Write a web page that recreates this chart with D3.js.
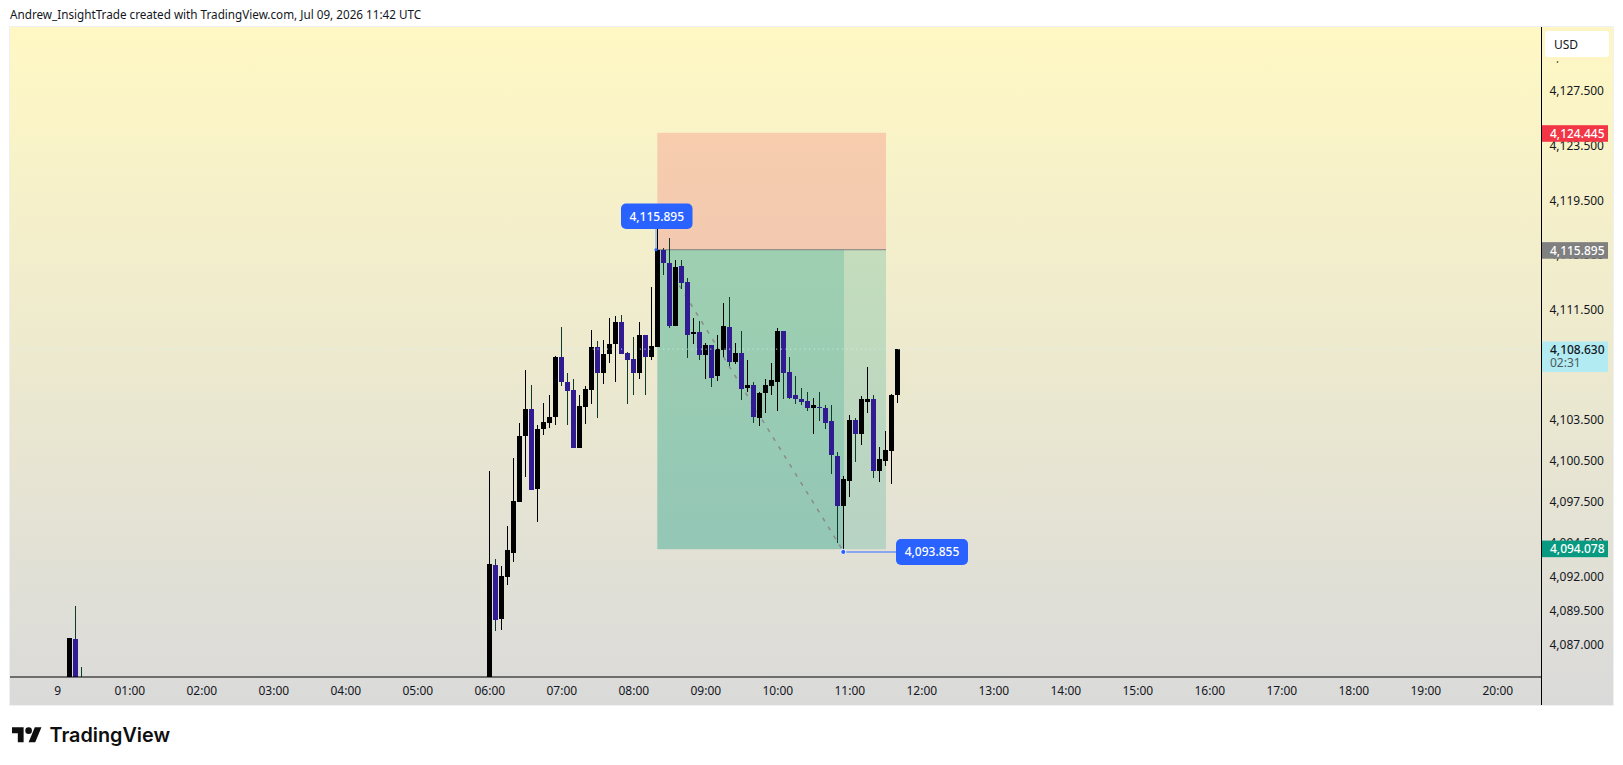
<!DOCTYPE html>
<html><head><meta charset="utf-8">
<script src="https://cdn.jsdelivr.net/npm/d3@7/dist/d3.min.js"></script>
<style>
html,body{margin:0;padding:0;background:#fff;overflow:hidden}
svg{display:block}
text{font-family:"Noto Sans",sans-serif}
</style></head><body>
<svg id="c" width="1623" height="765"></svg>
<script>
const titleText = "Andrew_InsightTrade created with TradingView.com, Jul 09, 2026 11:42 UTC";
const barSlots = [2,3,4,
 72,73,74,75,76,77,78,79,80,81,82,83,84,85,86,87,88,89,90,91,92,93,94,95,96,97,98,99,
 100,101,102,103,104,105,106,107,108,109,110,111,112,113,114,115,116,117,118,119,
 120,121,122,123,124,125,126,127,128,129,130,131,132,133,134,135,136,137,138,139,140];
const opens = [4080,4087.45,4082,
 4080,4092.87,4088.92,4091.99,4093.75,4097.48,4102.31,4104.28,4098.43,4102.82,4103.26,4103.70,4108.02,4106.26,4105.67,4101.43,4104.43,4105.67,4108.82,4106.85,4108.24,4109.04,4110.58,4108.38,4107.94,4106.85,4109.63,4108.09,
 4108.82,4115.84,4114.89,4110.35,4114.74,4113.57,4109.77,4109.91,4108.23,4108.96,4106.69,4108.60,4110.28,4107.72,4108.38,4105.82,4106.04,4103.63,4105.39,4105.97,
 4106.19,4109.99,4106.99,4105.24,4104.95,4104.87,4104.29,4104.43,4104.36,4103.34,4100.85,4097.19,4099.02,4103.48,4102.46,4104.80,4104.95,4099.75,4100.48,4101.21,4105.24];
const highs = [4087.53,4089.87,4085.41,
 4099.75,4093.28,4092.80,4095.72,4100.70,4103.26,4107.14,4106.04,4103.11,4104.72,4105.24,4108.16,4110.28,4106.92,4106.48,4105.24,4105.97,4110.06,4109.26,4109.33,4110.94,4111.02,4111.16,4108.45,4109.48,4110.58,4109.63,4113.14,
 4117.96,4116.03,4116.79,4115.18,4115.18,4113.86,4110.94,4110.72,4109.11,4108.96,4109.69,4112.03,4112.47,4109.11,4109.99,4107.87,4106.26,4105.53,4106.41,4107.58,
 4110.21,4109.99,4108.09,4106.63,4105.82,4105.53,4105.09,4105.46,4104.51,4104.58,4101.14,4099.39,4103.85,4103.63,4105.17,4107.29,4105.31,4101.50,4102.67,4105.38,4108.63];
const lows = [4080,4082,4080,
 4078,4087.99,4088.11,4091.41,4093.09,4097.48,4099.31,4098.36,4096.02,4102.38,4102.89,4103.11,4105.97,4103.11,4101.43,4101.43,4103.19,4104.65,4103.63,4106.11,4107.65,4106.26,4108.31,4104.65,4105.24,4106.48,4105.31,4107.80,
 4108.82,4114.08,4110.21,4110.35,4113.06,4108.01,4109.03,4107.86,4106.47,4105.89,4106.33,4108.08,4107.43,4107.57,4104.94,4105.46,4103.26,4103.04,4103.99,4105.31,
 4104.07,4104.95,4105.02,4104.65,4104.51,4104.07,4102.39,4103.41,4102.82,4099.53,4094.48,4093.855,4097.85,4100.41,4101.65,4103.99,4099.24,4098.94,4100.11,4098.80,4104.72];
const closes = [4087.48,4084,4081,
 4092.94,4088.85,4092.06,4093.97,4097.55,4102.31,4104.28,4098.36,4102.82,4103.33,4103.70,4108.02,4106.26,4105.60,4101.43,4104.50,4105.75,4108.82,4106.85,4108.31,4109.04,4110.58,4108.31,4107.80,4106.85,4109.63,4108.09,4108.89,
 4115.84,4114.89,4110.35,4114.67,4113.50,4109.69,4109.91,4108.23,4108.96,4106.55,4108.67,4110.35,4107.72,4108.38,4105.74,4106.04,4103.70,4105.39,4106.04,4106.34,
 4109.99,4106.92,4105.09,4104.95,4104.73,4104.29,4104.51,4104.36,4103.26,4100.92,4097.19,4099.17,4103.48,4102.46,4104.95,4105.02,4099.75,4100.63,4101.28,4105.31,4108.63];
const priceTicks = [4130,4127.5,4123.5,4119.5,4115.5,4111.5,4107.5,4103.5,4100.5,4097.5,4094.5,4092,4089.5,4087];
const hourTicks = [0,1,2,3,4,5,6,7,8,9,10,11,12,13,14,15,16,17,18,19,20];
const hourLabels = ["9","01:00","02:00","03:00","04:00","05:00","06:00","07:00","08:00","09:00","10:00","11:00","12:00","13:00","14:00","15:00","16:00","17:00","18:00","19:00","20:00"];
const stopPrice = 4124.445, entryPrice = 4115.895, targetPrice = 4094.078;
const highPrice = 4115.895, lowPrice = 4093.855, lastPrice = 4108.63;
const countdown = "02:31", currency = "USD";
const posStartSlot = 100, posEndSlot = 138, lowSlot = 131, highSlot = 100;

const L=10,R=1613,T=27,B=705,AX=1541.5,AY=677;
const svg=d3.select("#c");
const y=d3.scaleLinear().domain([4127.5,4087]).range([91,645]);
const x=d3.scaleLinear().domain([0,20]).range([57.3,1497.3]);
const xs=s=>x(s*5/60);
const fmt=d3.format(",.3f");
const defs=svg.append("defs");
const g=defs.append("linearGradient").attr("id","bg").attr("x1",0).attr("x2",0).attr("y1",0).attr("y2",1);
g.append("stop").attr("offset",0).attr("stop-color","#fff8c4");
g.append("stop").attr("offset",1).attr("stop-color","#dadada");
defs.append("clipPath").attr("id","plot").append("rect").attr("x",L).attr("y",T).attr("width",AX-L).attr("height",AY-T);

svg.append("text").attr("x",10).attr("y",19).attr("font-size",11.7).attr("fill","#131722").text(titleText);
svg.append("rect").attr("x",L-.5).attr("y",T-.5).attr("width",R-L+1).attr("height",B-T+1).attr("fill","url(#bg)").attr("stroke","#eef0f3");

// position tool
const xa=xs(posStartSlot),xb=Math.ceil(xs(posEndSlot)),xl=Math.ceil(xs(lowSlot));
const plot=svg.append("g").attr("clip-path","url(#plot)");
plot.append("rect").attr("x",xa).attr("y",y(stopPrice)).attr("width",xb-xa).attr("height",y(entryPrice)-y(stopPrice)).attr("fill","rgba(242,54,69,.2)");
plot.append("rect").attr("x",xa).attr("y",y(entryPrice)).attr("width",xb-xa).attr("height",y(targetPrice)+1-y(entryPrice)).attr("fill","rgba(8,153,129,.2)");
plot.append("rect").attr("x",xa).attr("y",y(entryPrice)).attr("width",xl-xa).attr("height",y(targetPrice)+1-y(entryPrice)).attr("fill","rgba(8,153,129,.2)");
plot.append("line").attr("x1",xa).attr("x2",xb).attr("y1",y(entryPrice)).attr("y2",y(entryPrice)).attr("stroke","#808080").attr("stroke-width",1);
plot.append("line").attr("x1",xs(highSlot)).attr("y1",y(highPrice)).attr("x2",xs(lowSlot)).attr("y2",y(lowPrice)).attr("stroke","#8a8a8a").attr("stroke-width",1.5).attr("stroke-dasharray","4 6.5");

// leaders and callouts
function callout(px,py,w,h,label){
  svg.append("rect").attr("x",px).attr("y",py).attr("width",w).attr("height",h).attr("rx",5).attr("fill","#2962ff");
  svg.append("text").attr("x",px+w/2).attr("y",py+h/2+4.3).attr("text-anchor","middle").attr("font-size",12).attr("font-weight",500).attr("fill","#fff").text(label);
}
svg.append("line").attr("x1",656).attr("x2",656).attr("y1",225).attr("y2",y(highPrice)).attr("stroke","#6f93f5").attr("stroke-width",1);
svg.append("line").attr("x1",xs(lowSlot)).attr("x2",897).attr("y1",y(lowPrice)+.7).attr("y2",y(lowPrice)+.7).attr("stroke","#8aa6ee").attr("stroke-width",2);
callout(621,203.5,71.5,25.5,fmt(highPrice));
callout(896,539,72,26,fmt(lowPrice));

// candles
const candles=barSlots.map((s,i)=>({s,o:opens[i],h:highs[i],l:lows[i],c:closes[i]}));
const UP="#000000",DOWN="#311b92",DW="#0c3b2e";
const cg=plot.append("g");
cg.selectAll("rect.w").data(candles).join("rect").attr("class","w")
  .attr("x",d=>Math.floor(xs(d.s))).attr("width",1)
  .attr("y",d=>Math.round(y(d.h))).attr("height",d=>Math.max(1,Math.round(y(d.l))-Math.round(y(d.h))))
  .attr("fill",d=>d.c>=d.o?UP:DW);
cg.selectAll("rect.b").data(candles).join("rect").attr("class","b")
  .attr("x",d=>Math.floor(xs(d.s))-2).attr("width",5)
  .attr("y",d=>Math.round(y(Math.max(d.o,d.c))))
  .attr("height",d=>Math.max(1,Math.round(y(Math.min(d.o,d.c)))-Math.round(y(Math.max(d.o,d.c)))))
  .attr("fill",d=>d.c>=d.o?UP:DOWN);

// dots
svg.append("circle").attr("cx",656).attr("cy",y(highPrice)).attr("r",1.6).attr("fill","#2962ff");
svg.append("circle").attr("cx",xs(lowSlot)).attr("cy",y(lowPrice)+.7).attr("r",2.6).attr("fill","#2962ff").attr("stroke","#fff").attr("stroke-width",1);

// last price line
plot.append("line").attr("x1",L).attr("x2",AX).attr("y1",y(lastPrice)).attr("y2",y(lastPrice)).attr("stroke","#c6eff5").attr("stroke-width",1).attr("stroke-dasharray","1 3.7");

// axes
const ay=d3.axisRight(y).tickValues(priceTicks).tickFormat(fmt).tickSize(0).tickPadding(8);
const ayg=svg.append("g").attr("transform",`translate(${AX},0)`).call(ay);
ayg.select(".domain").remove();
ayg.selectAll("text").attr("font-size",12).attr("fill","#131722").style("font-family",'"Noto Sans",sans-serif');
const ax=d3.axisBottom(x).tickValues(hourTicks).tickFormat((d,i)=>hourLabels[i]).tickSize(0).tickPadding(9);
const axg=svg.append("g").attr("transform",`translate(0,${AY})`).call(ax);
axg.select(".domain").remove();
axg.selectAll("text").attr("font-size",12).attr("fill","#131722").style("font-family",'"Noto Sans",sans-serif');
svg.append("line").attr("x1",L).attr("x2",AX).attr("y1",AY).attr("y2",AY).attr("stroke","#000").attr("stroke-width",1);
svg.append("line").attr("x1",AX).attr("x2",AX).attr("y1",T).attr("y2",B).attr("stroke","#000").attr("stroke-width",1);

// price badges
function badge(p,fill,col,h){
  const cy=y(p)+.7;
  svg.append("rect").attr("x",AX+.5).attr("y",cy-8.3).attr("width",66).attr("height",h||16.6).attr("fill",fill);
  svg.append("text").attr("x",1550).attr("y",cy+4.3).attr("font-size",12).attr("font-weight",500).attr("fill",col).text(fmt(p));
}
badge(stopPrice,"#f23645","#fff");
badge(entryPrice,"#808080","#fff");
badge(targetPrice,"#089981","#fff");
badge(lastPrice,"#b2ebf2","#131722",30.5);
svg.append("text").attr("x",1550).attr("y",367).attr("font-size",12).attr("fill","#4a5a60").text(countdown);

// currency box and the panel behind it
svg.append("rect").attr("x",AX+.5).attr("y",28).attr("width",R-AX-1).attr("height",33.2).attr("fill","#fdf6c4");
svg.append("rect").attr("x",1545).attr("y",31).attr("width",64).attr("height",26).attr("rx",3).attr("fill","#fff");
svg.append("text").attr("x",1554).attr("y",49).attr("font-size",12).attr("fill","#131722").text(currency);

// logo
const lg=svg.append("g").attr("transform","translate(12,724) scale(.83)").attr("fill","#0f0f0f");
lg.append("path").attr("d","M14 22H7V11H0V4h14v18zM28 22h-8l7.5-18h8L28 22z");
lg.append("circle").attr("cx",20).attr("cy",8).attr("r",4);
svg.append("text").attr("x",49.5).attr("y",742).attr("font-size",19.8).attr("font-weight",600).attr("fill","#0f0f0f").style("font-family","Inter,sans-serif").text("TradingView");
</script>
</body></html>
